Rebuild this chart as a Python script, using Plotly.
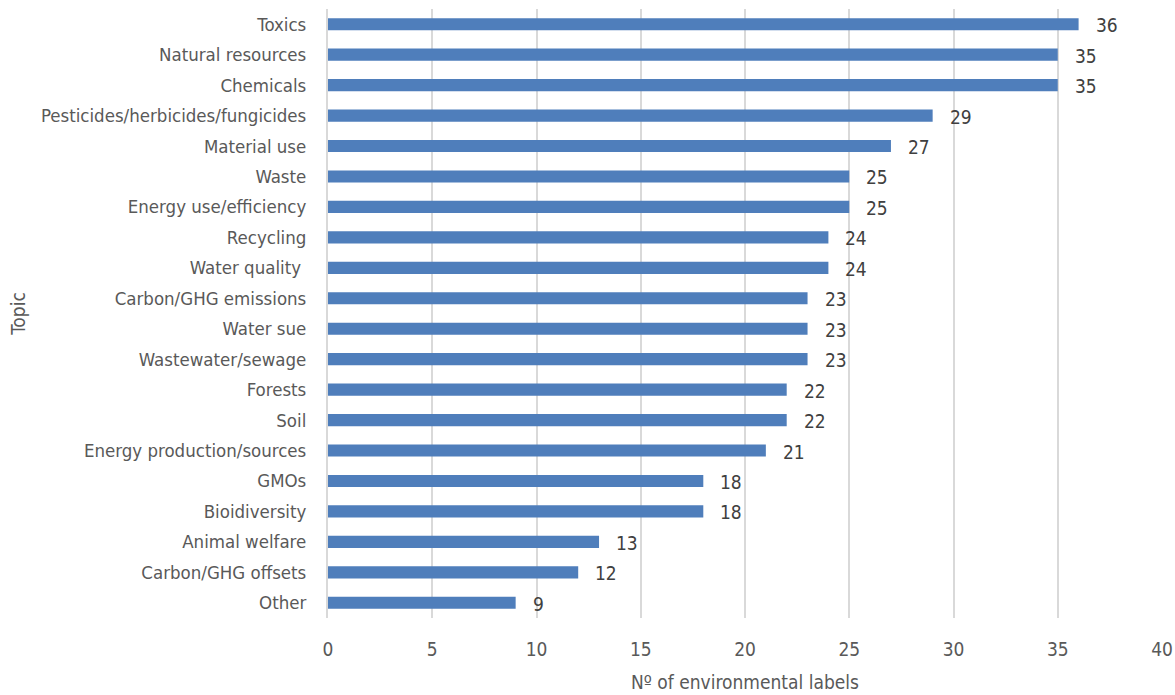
import plotly.graph_objects as go

topics = [
    "Toxics", "Natural resources", "Chemicals", "Pesticides/herbicides/fungicides",
    "Material use", "Waste", "Energy use/efficiency", "Recycling", "Water quality ",
    "Carbon/GHG emissions", "Water sue", "Wastewater/sewage", "Forests", "Soil",
    "Energy production/sources", "GMOs", "Bioidiversity", "Animal welfare",
    "Carbon/GHG offsets", "Other",
]
counts = [36, 35, 35, 29, 27, 25, 25, 24, 24, 23, 23, 23, 22, 22, 21, 18, 18, 13, 12, 9]
x_ticks = [0, 5, 10, 15, 20, 25, 30, 35, 40]

FONT = "DejaVu Sans Condensed, Liberation Sans Narrow, Roboto, sans-serif"
TXT = "#595959"

fig = go.Figure(
    go.Bar(
        x=counts,
        y=topics,
        orientation="h",
        marker=dict(color="#4f7ebb", line=dict(width=0)),
        width=0.4,
    )
)

for t, c in zip(topics, counts):
    fig.add_annotation(
        x=c, y=t, text=str(c), showarrow=False,
        xanchor="left", xshift=15, yshift=-1,
        font=dict(family=FONT, size=19, color="#404040"),
    )

fig.update_layout(
    width=1175, height=695,
    margin=dict(l=328, r=13, t=9, b=77),
    plot_bgcolor="white", paper_bgcolor="white",
    showlegend=False,
    font=dict(family=FONT, size=18, color=TXT),
    xaxis=dict(
        range=[0, 40], tickvals=x_ticks, ticktext=[str(v) for v in x_ticks],
        showgrid=True, gridcolor="#d9d9d9", gridwidth=2,
        zeroline=False, showline=False, automargin=False,
        tickfont=dict(family=FONT, size=19, color=TXT),
        title=dict(text="Nº of environmental labels", standoff=16,
                   font=dict(family=FONT, size=19, color=TXT)),
        ticklabelstandoff=18,
    ),
    yaxis=dict(
        categoryorder="array", categoryarray=topics, autorange="reversed",
        showgrid=False, zeroline=False, automargin=False,
        showline=True, linecolor="#d9d9d9", linewidth=2,
        tickfont=dict(family=FONT, size=18.5, color=TXT),
        ticklabelstandoff=16,
        title=dict(text="Topic", standoff=10,
                   font=dict(family=FONT, size=19, color=TXT)),
    ),
)

fig.write_html("out.html")
